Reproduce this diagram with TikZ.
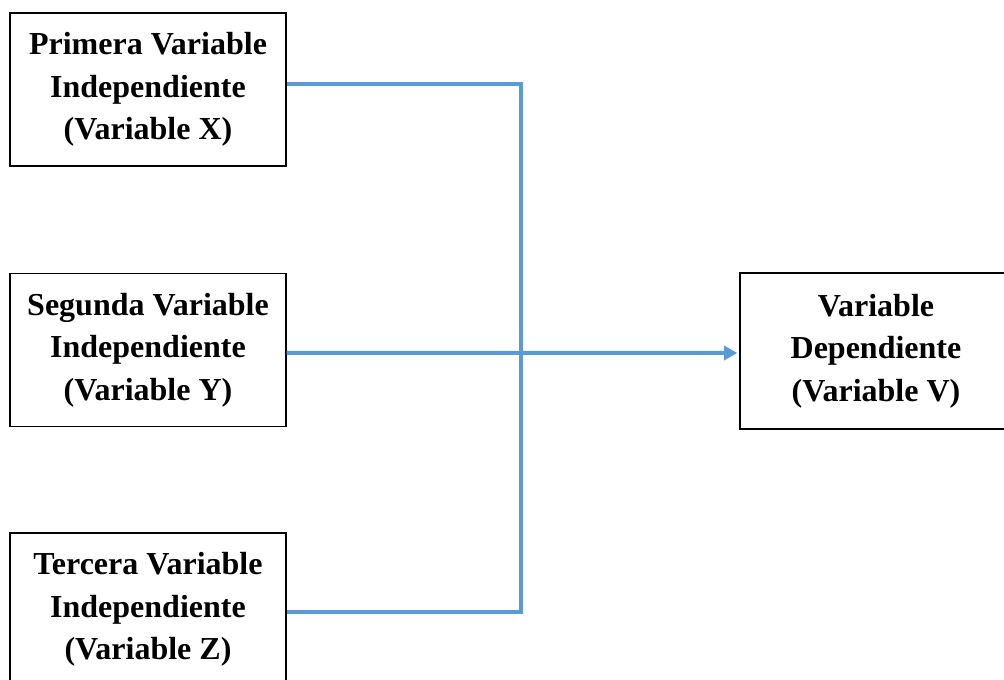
\documentclass[tikz,border=0pt]{standalone}
\usepackage{fontspec}
\setmainfont{Liberation Serif}
\usetikzlibrary{arrows.meta}

\definecolor{azul}{RGB}{91,155,213}

\begin{document}
\begin{tikzpicture}[x=0.75pt,y=-0.75pt,
    caja/.style={draw,line width=0.9pt,align=center,inner sep=0pt,
      minimum width=207pt,minimum height=114.75pt,
      font=\fontsize{24}{32}\selectfont\bfseries},
    enlace/.style={draw=azul,line width=3pt}]
\useasboundingbox (0,0) rectangle (1004,680);
\node [caja] (prim) at (148,89.5) {Primera Variable\\Independiente\\(Variable X)};
\node [caja] (seg) at (148,350) {Segunda Variable\\Independiente\\(Variable Y)};
\node [caja] (terc) at (148,609.5) {Tercera Variable\\Independiente\\(Variable Z)};
\node [caja,minimum width=204pt,minimum height=117pt] (dep) at (876,351) {Variable\\Dependiente\\(Variable V)};
\coordinate (cruce) at (521,353);
\draw [enlace] ([yshift=4.1pt]prim.east) -| (cruce);
\draw [enlace] ([yshift=-1.9pt]terc.east) -| (cruce);
\draw [enlace,-{Triangle[length=10pt,width=10.5pt]}] ([yshift=-2.2pt]seg.east) -- ([xshift=-1.5pt,yshift=-1.5pt]dep.west);
\end{tikzpicture}
\end{document}
